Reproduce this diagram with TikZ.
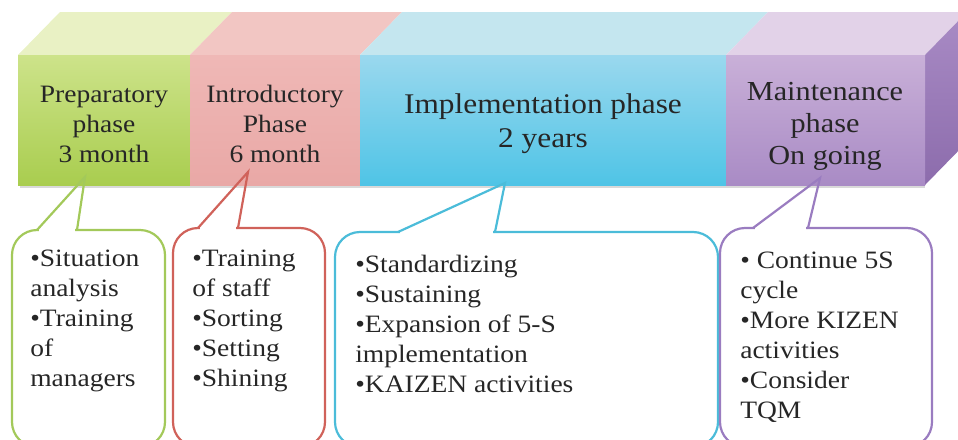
\documentclass[tikz,border=0pt]{standalone}
\usepackage{fontspec}
\setmainfont{Liberation Serif}[FakeStretch=1.1]
\usetikzlibrary{positioning}

\definecolor{greenFront}{HTML}{CDE38A}
\definecolor{greenBot}{HTML}{A9CD4F}
\definecolor{greenTop}{HTML}{E9F1C4}
\definecolor{greenLine}{HTML}{A3C95A}
\definecolor{redFront}{HTML}{EFB8B6}
\definecolor{redBot}{HTML}{E9A8A6}
\definecolor{redTop}{HTML}{F2C6C3}
\definecolor{redLine}{HTML}{D0625A}
\definecolor{blueFront}{HTML}{9AD8EE}
\definecolor{blueBot}{HTML}{4FC4E6}
\definecolor{blueTop}{HTML}{C4E6EF}
\definecolor{blueLine}{HTML}{4BBCD9}
\definecolor{purpleFront}{HTML}{C9B0D8}
\definecolor{purpleBot}{HTML}{A98BC5}
\definecolor{purpleTop}{HTML}{E2D2E8}
\definecolor{purpleSide}{HTML}{8C6CAC}
\definecolor{purpleLine}{HTML}{9A7CC0}

\begin{document}
\begin{tikzpicture}[x=1pt,y=-1pt,semithick]
    \tikzstyle{phase}=[align=center,font=\fontsize{25}{30}\selectfont,inner sep=0pt,text=black!85]
    \tikzstyle{note}=[align=left,font=\fontsize{25}{30}\selectfont,inner sep=0pt,anchor=north west,text=black!85]
    \tikzstyle{callout}=[line width=2.2pt,rounded corners=25pt]
    \tikzstyle{pointer}=[line width=2.2pt,line join=miter,line cap=round]
    \useasboundingbox (0,0) rectangle (958,439);
    \clip (0,0) rectangle (958,439);

    % top faces of the band
    \fill[greenTop]  (18,55) -- (60,12) -- (232,12) -- (190,55) -- cycle;
    \fill[redTop]    (190,55) -- (232,12) -- (402,12) -- (360,55) -- cycle;
    \fill[blueTop]   (360,55) -- (402,12) -- (768,12) -- (726,55) -- cycle;
    \fill[purpleTop] (726,55) -- (768,12) -- (967,12) -- (925,55) -- cycle;
    \shade[top color=purpleBot, bottom color=purpleSide] (925,55) -- (967,12) -- (967,142) -- (925,185) -- cycle;
    % shadow under the band
    \fill[black!15] (20,185) rectangle (925,188);
    % front faces
    \shade[top color=greenFront,  bottom color=greenBot]  (18,55)  rectangle (190,185);
    \shade[top color=redFront,    bottom color=redBot]    (190,55) rectangle (360,185);
    \shade[top color=blueFront,   bottom color=blueBot]   (360,55) rectangle (726,185);
    \shade[top color=purpleFront, bottom color=purpleBot] (726,55) rectangle (925,185);

    \node[phase] (prep)  at (104,124) {Preparatory\\phase\\3 month};
    \node[phase] (intro) at (275,124) {Introductory\\Phase\\6 month};
    \node[phase, font=\fontsize{28.5}{34}\selectfont] (impl) at (543,124) {Implementation phase\\2 years};
    \node[phase, font=\fontsize{27.5}{32}\selectfont] (maint) at (825,126) {Maintenance\\phase\\On going};

    \coordinate (prepTip)  at (85,177);
    \coordinate (introTip) at (248,172);
    \coordinate (implTip)  at (505,183);
    \coordinate (maintTip) at (820,178);

    % callout boxes
    \draw[callout, greenLine]  (12,230)  rectangle (165,447);
    \draw[callout, redLine]    (173,228) rectangle (325,447);
    \draw[callout, blueLine]   (335,232) rectangle (718,447);
    \draw[callout, purpleLine] (720,228) rectangle (932,447);
    % gaps for the pointers
    \fill[white] (39,226) rectangle (75,234);
    \fill[white] (200,224) rectangle (236,232);
    \fill[white] (400,228) rectangle (493,236);
    \fill[white] (755,224) rectangle (806,232);
    % pointers
    \draw[pointer, greenLine]  (37,230)  -- (prepTip)  -- (77,230);
    \draw[pointer, redLine]    (198,228) -- (introTip) -- (238,228);
    \draw[pointer, blueLine]   (398,232) -- (implTip)  -- (495,232);
    \draw[pointer, purpleLine] (753,228) -- (maintTip) -- (808,228);

    \node[note] (prepNote)  at (30,250)  {•Situation\\analysis\\•Training\\of\\managers};
    \node[note] (introNote) at (192,250) {•Training\\of staff\\•Sorting\\•Setting\\•Shining};
    \node[note] (implNote)  at (355,255) {•Standardizing\\•Sustaining\\•Expansion of 5-S\\implementation\\•KAIZEN activities};
    \node[note] (maintNote) at (740,252) {• Continue 5S\\cycle\\•More KIZEN\\activities\\•Consider\\TQM};
\end{tikzpicture}
\end{document}
